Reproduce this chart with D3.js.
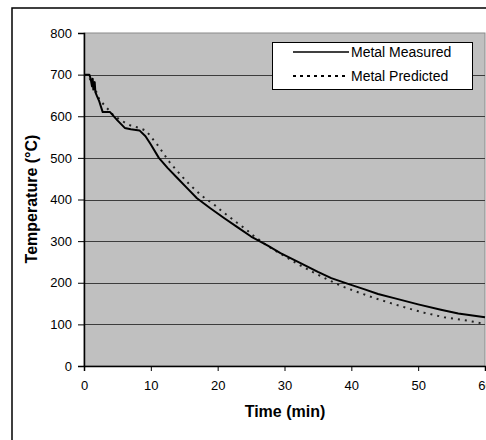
<!DOCTYPE html>
<html>
<head>
<meta charset="utf-8">
<script src="https://cdn.jsdelivr.net/npm/d3@7.9.0/dist/d3.min.js"></script>
<style>
  body { margin: 0; background: #fff; }
  svg text { font-family: "Liberation Sans", Arial, sans-serif; }
</style>
</head>
<body>
<svg id="chart" width="486" height="440"></svg>
<script>
// measured metal temperature [time (min), temp (°C)]
const measured = [
  [0, 700], [0.8, 700], [1.0, 690], [1.2, 672], [1.3, 690], [1.4, 664], [1.6, 682],
  [1.7, 658], [1.9, 650], [2.3, 635], [2.8, 610], [3.9, 610], [5, 590], [6.1, 572],
  [7, 569], [8.3, 566], [9.2, 552], [10, 532], [11.2, 500], [12.5, 476], [14, 451],
  [15.5, 426], [16.9, 403], [18.9, 379], [21, 355], [23, 333], [25, 311], [27.5, 289],
  [29.4, 271], [32.4, 247], [35, 226], [37, 211], [39.4, 198], [42, 184], [44, 173],
  [46.4, 163], [50, 148], [53.4, 135], [56, 126], [60, 117]
];

// predicted metal temperature
const predicted = [
  [0, 700], [0.7, 695], [1.2, 680], [1.8, 660], [2.3, 640], [3.3, 622], [4.5, 601],
  [6.3, 583], [7.2, 576], [8.3, 572], [9.3, 565], [10.2, 547], [11.2, 527], [12, 508],
  [12.8, 490], [13.8, 471], [14.8, 453], [15.8, 436], [16.8, 421], [17.7, 408],
  [19.6, 386], [20.7, 371], [21.7, 359], [22.9, 344], [24.2, 329], [25.2, 315],
  [27.4, 289], [30, 264], [32, 245], [34.2, 226], [36.4, 208], [38.7, 191], [41.2, 176],
  [43.7, 162], [45.9, 151], [48.4, 139], [50.9, 128], [53.9, 117], [57.4, 109], [60, 101]
];

const xTicks = [0, 10, 20, 30, 40, 50, 60];
const yTicks = [0, 100, 200, 300, 400, 500, 600, 700, 800];
const legendLabels = ['Metal Measured', 'Metal Predicted'];

const svg = d3.select('#chart');
const plot = { left: 84, top: 33, right: 485, bottom: 366 };

// outer chart frame (cropped at right and bottom)
svg.append('rect')
  .attr('x', 12).attr('y', 8)
  .attr('width', 500).attr('height', 460)
  .attr('fill', '#fff')
  .attr('stroke', '#000')
  .attr('stroke-width', 1.5);

const x = d3.scaleLinear().domain([0, 60]).range([plot.left, plot.right]);
const y = d3.scaleLinear().domain([0, 800]).range([plot.bottom, plot.top]);

// plot area
svg.append('rect')
  .attr('x', plot.left).attr('y', plot.top)
  .attr('width', plot.right - plot.left).attr('height', plot.bottom - plot.top)
  .attr('fill', '#c0c0c0')
  .attr('stroke', '#8a8a8a')
  .attr('stroke-width', 1);

// gridlines
svg.append('g')
  .selectAll('line')
  .data(yTicks.filter(d => d > 0 && d < 800))
  .join('line')
  .attr('x1', plot.left).attr('x2', plot.right)
  .attr('y1', d => Math.round(y(d)) + 0.5).attr('y2', d => Math.round(y(d)) + 0.5)
  .attr('stroke', '#3c3c3c')
  .attr('stroke-width', 1);

// axes
const yAxis = svg.append('g')
  .attr('transform', `translate(${plot.left},0)`)
  .call(d3.axisLeft(y).tickValues(yTicks).tickSize(6).tickPadding(6));

const xAxis = svg.append('g')
  .attr('transform', `translate(0,${plot.bottom})`)
  .call(d3.axisBottom(x).tickValues(xTicks).tickSize(5).tickPadding(10));

[xAxis, yAxis].forEach(ax => {
  ax.select('.domain').attr('stroke', '#000').attr('stroke-width', 1.5);
  ax.selectAll('.tick line').attr('stroke', '#000');
  ax.selectAll('.tick text')
    .attr('fill', '#000')
    .style('font-size', '13px')
    .style('font-family', '"Liberation Sans", Arial, sans-serif');
});

// lines
const line = d3.line().x(d => x(d[0])).y(d => y(d[1]));

svg.append('path')
  .datum(predicted)
  .attr('d', line)
  .attr('fill', 'none')
  .attr('stroke', '#222')
  .attr('stroke-width', 2)
  .attr('stroke-dasharray', '2,5');

svg.append('path')
  .datum(measured)
  .attr('d', line)
  .attr('fill', 'none')
  .attr('stroke', '#000')
  .attr('stroke-width', 2)
  .attr('stroke-linejoin', 'round');

// axis titles
svg.append('text')
  .attr('x', 285).attr('y', 417)
  .attr('text-anchor', 'middle')
  .style('font-size', '16px')
  .style('font-weight', 'bold')
  .text('Time (min)');

svg.append('text')
  .attr('transform', 'translate(37,199) rotate(-90)')
  .attr('text-anchor', 'middle')
  .style('font-size', '16px')
  .style('font-weight', 'bold')
  .text('Temperature (°C)');

// legend
const legend = svg.append('g');
legend.append('rect')
  .attr('x', 272.5).attr('y', 42.5)
  .attr('width', 200).attr('height', 47)
  .attr('fill', '#fff')
  .attr('stroke', '#000')
  .attr('stroke-width', 1);

legendLabels.forEach((label, i) => {
  const ly = 52 + i * 24;
  legend.append('line')
    .attr('x1', 293).attr('x2', 349)
    .attr('y1', ly).attr('y2', ly)
    .attr('stroke', '#000')
    .attr('stroke-width', i === 0 ? 1.5 : 2)
    .attr('stroke-dasharray', i === 0 ? null : '3,4');
  legend.append('text')
    .attr('x', 351).attr('y', ly + 5)
    .style('font-size', '14px')
    .text(label);
});
</script>
</body>
</html>
